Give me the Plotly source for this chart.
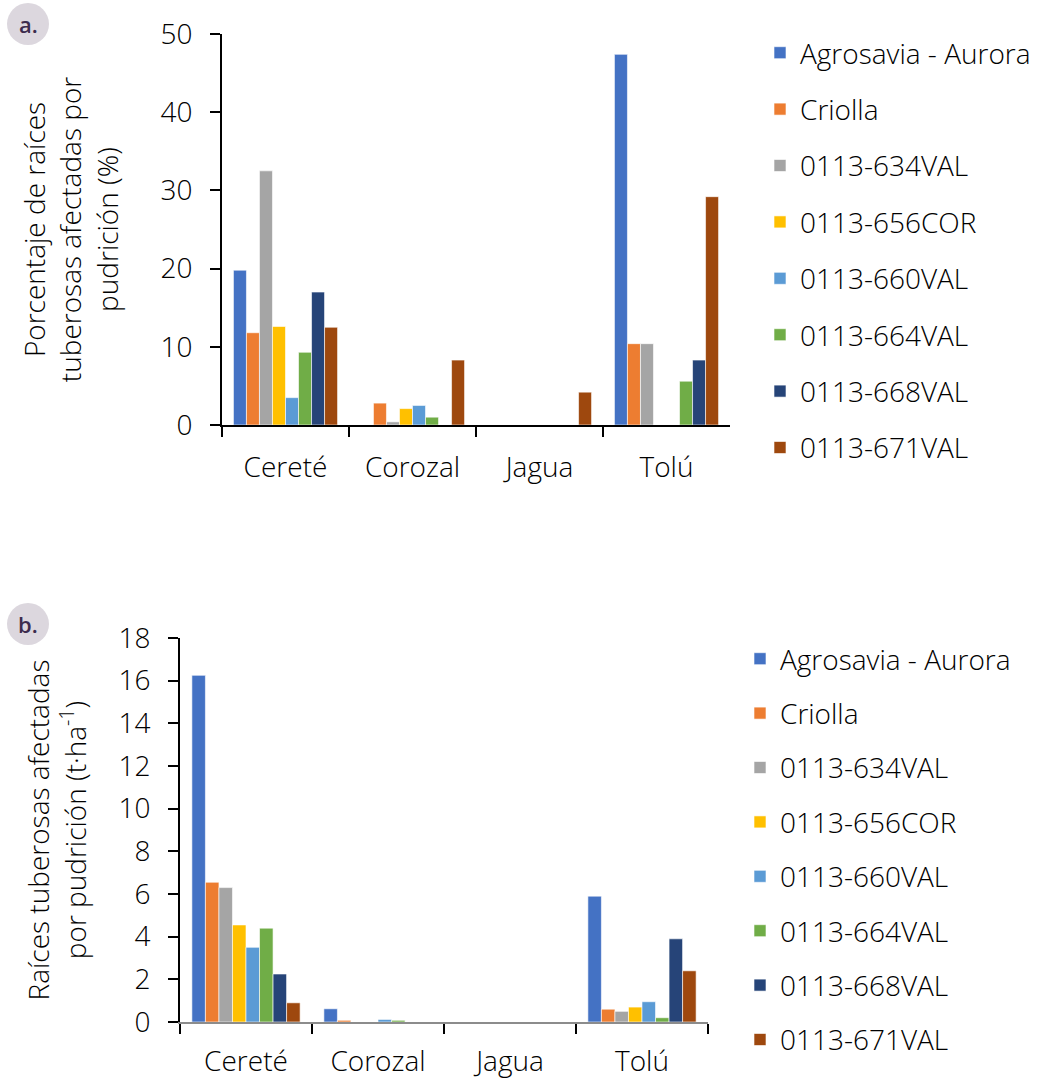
import plotly.graph_objects as go

locations = ["Cereté", "Corozal", "Jagua", "Tolú"]
genotypes = ["Agrosavia - Aurora", "Criolla", "0113-634VAL", "0113-656COR",
             "0113-660VAL", "0113-664VAL", "0113-668VAL", "0113-671VAL"]
colors = ["#4472C4", "#ED7D31", "#A5A5A5", "#FFC000",
          "#5B9BD5", "#70AD47", "#264478", "#9E480E"]

# Panel a: percentage of roots affected by rot (%), per genotype across locations
pct_aurora = [19.8, 0.0, 0.0, 47.4]
pct_criolla = [11.8, 2.8, 0.0, 10.4]
pct_634 = [32.5, 0.4, 0.0, 10.4]
pct_656 = [12.6, 2.1, 0.0, 0.0]
pct_660 = [3.5, 2.5, 0.0, 0.0]
pct_664 = [9.3, 1.0, 0.0, 5.6]
pct_668 = [17.0, 0.0, 0.0, 8.3]
pct_671 = [12.5, 8.3, 4.2, 29.2]

# Panel b: roots affected by rot (t/ha)
t_aurora = [16.25, 0.62, 0.0, 5.9]
t_criolla = [6.55, 0.08, 0.0, 0.6]
t_634 = [6.3, 0.0, 0.0, 0.5]
t_656 = [4.55, 0.0, 0.0, 0.7]
t_660 = [3.5, 0.12, 0.0, 0.95]
t_664 = [4.4, 0.08, 0.0, 0.2]
t_668 = [2.25, 0.0, 0.0, 3.9]
t_671 = [0.9, 0.0, 0.0, 2.4]

pct_series = [pct_aurora, pct_criolla, pct_634, pct_656, pct_660, pct_664, pct_668, pct_671]
t_series = [t_aurora, t_criolla, t_634, t_656, t_660, t_664, t_668, t_671]

W, H = 1045, 1078
FONT = "Open Sans"
FS = 28

fig = go.Figure()
for i, name in enumerate(genotypes):
    fig.add_trace(go.Bar(x=locations, y=pct_series[i], name=name,
                         marker=dict(color=colors[i], line=dict(color="white", width=0.6)),
                         xaxis="x", yaxis="y", legend="legend", legendgroup="a" + str(i)))
for i, name in enumerate(genotypes):
    fig.add_trace(go.Bar(x=locations, y=t_series[i], name=name,
                         marker=dict(color=colors[i], line=dict(color="white", width=0.6)),
                         xaxis="x2", yaxis="y2", legend="legend2", legendgroup="b" + str(i)))

def px_x(v):
    return v / W

def px_y(v):
    return 1 - v / H

tickfont = dict(family=FONT, size=FS, color="black", weight=300)
common_x = dict(type="category", showline=True, linewidth=2, ticks="outside",
                tickson="boundaries", ticklen=10, tickwidth=2, tickcolor="black",
                tickfont=tickfont, showgrid=False, zeroline=False, automargin=False)
common_y = dict(showline=True, linewidth=2, linecolor="black", ticks="outside",
                ticklen=10, tickwidth=2, tickcolor="black", tickfont=tickfont,
                ticklabelstandoff=12,
                showgrid=False, zeroline=False, automargin=False)

legend_common = dict(font=dict(family=FONT, size=FS, color="black", weight=300),
                     itemwidth=30, bgcolor="rgba(0,0,0,0)",
                     xanchor="left", yanchor="top")

fig.update_layout(
    width=W, height=H,
    margin=dict(l=0, r=0, t=0, b=0, autoexpand=False),
    paper_bgcolor="white", plot_bgcolor="white",
    barmode="group", bargap=0.18, bargroupgap=0.0,
    font=dict(family=FONT, color="black"),
    xaxis=dict(domain=[px_x(222), px_x(730)], anchor="y", linecolor="black",
               ticklabelstandoff=16, **common_x),
    yaxis=dict(domain=[px_y(425), px_y(34)], anchor="x", range=[0, 50], dtick=10,
               title=dict(text="Porcentaje de raíces<br>tuberosas afectadas por<br>pudrición (%)",
                          font=dict(family=FONT, size=FS, weight=300), standoff=34),
               **common_y),
    xaxis2=dict(domain=[px_x(180), px_x(708)], anchor="y2", linecolor="#8c8c8c",
                ticklabelstandoff=13, **common_x),
    yaxis2=dict(domain=[px_y(1022), px_y(638)], anchor="x2", range=[0, 18], dtick=2,
                title=dict(text="Raíces tuberosas afectadas<br>por pudrición (t·ha<sup>-1</sup>)",
                           font=dict(family=FONT, size=FS, weight=300), standoff=24),
                **common_y),
    legend=dict(x=px_x(760), y=px_y(28), tracegroupgap=17, **legend_common),
    legend2=dict(x=px_x(740), y=px_y(634), tracegroupgap=15, **legend_common),
    showlegend=True,
)

# panel badges
for cx, cy, label in [(28, 24, "a."), (28, 624, "b.")]:
    fig.add_shape(type="circle", xref="paper", yref="paper",
                  x0=px_x(cx - 21), x1=px_x(cx + 21), y0=px_y(cy + 21), y1=px_y(cy - 21),
                  fillcolor="#dcd7de", line=dict(width=0), layer="below")
    fig.add_annotation(x=px_x(cx), y=px_y(cy), xref="paper", yref="paper", text=label,
                       xanchor="center", yanchor="middle", showarrow=False,
                       font=dict(family=FONT, size=22, color="#3d2c4d", weight=600))

fig.write_html("out.html", config={"displayModeBar": False},
               post_script="document.body.style.margin='0';")
